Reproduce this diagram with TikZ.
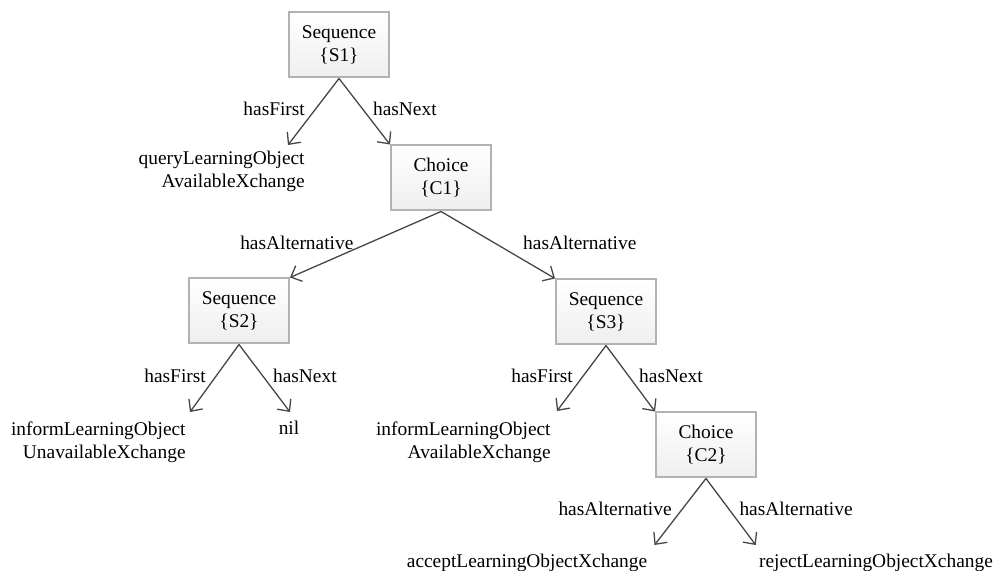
\documentclass[tikz,border=0pt]{standalone}
\usepackage{fontspec}
\setmainfont{Liberation Serif}
\usetikzlibrary{arrows.meta, calc}
\definecolor{boxgray}{RGB}{178,178,178}
\definecolor{linegray}{RGB}{70,70,70}

\begin{document}
\begin{tikzpicture}[x=0.5pt,y=-0.5pt,
    font=\fontsize{9.7}{11.5}\selectfont,
    ctrl/.style={draw=boxgray, line width=1pt, top color=white, bottom color=gray!13,
      minimum width=50pt, minimum height=32.5pt, align=center, inner sep=0pt},
    leaf/.style={align=right, inner sep=0pt},
    rel/.style={->, line width=0.65pt, draw=linegray, >={Straight Barb[length=4.5pt,width=8.5pt]}},
    lbl/.style={inner sep=5pt}]
  \useasboundingbox (0,0) rectangle (993,571);
  % control constructs
  \node[ctrl] (s1) at (339,45) {Sequence\\\{S1\}};
  \node[ctrl] (c1) at (441,178) {Choice\\\{C1\}};
  \node[ctrl] (s2) at (239,311) {Sequence\\\{S2\}};
  \node[ctrl] (s3) at (606,312) {Sequence\\\{S3\}};
  \node[ctrl] (c2) at (706,445) {Choice\\\{C2\}};
  % exchanges
  \node[leaf, anchor=north east] (q) at (305,151) {queryLearningObject\\AvailableXchange};
  \node[leaf, anchor=north east] (i1) at (186,421) {informLearningObject\\UnavailableXchange};
  \node[leaf, anchor=north] (nil) at (289,421) {nil};
  \node[leaf, anchor=north east] (i2) at (551,421) {informLearningObject\\AvailableXchange};
  \node[leaf, anchor=north] (acc) at (527,554) {acceptLearningObjectXchange};
  \node[leaf, anchor=north] (rej) at (876,554) {rejectLearningObjectXchange};
  % relations
  \draw[rel] (s1.south) -- ($(q.north east)+(-17,-6)$) node[lbl,pos=.46,left] {hasFirst};
  \draw[rel] (s1.south) -- (c1.north west) node[lbl,pos=.46,right] {hasNext};
  \draw[rel] (c1.south) -- (s2.north east) node[lbl,pos=.47,left,xshift=-3pt] {hasAlternative};
  \draw[rel] (c1.south) -- (s3.north west) node[lbl,pos=.47,right,xshift=9pt] {hasAlternative};
  \draw[rel] (s2.south) -- ($(i1.north east)+(4,-9)$) node[lbl,pos=.46,left] {hasFirst};
  \draw[rel] (s2.south) -- ($(nil.north)+(1,-9)$) node[lbl,pos=.46,right] {hasNext};
  \draw[rel] (s3.south) -- ($(i2.north east)+(6,-10)$) node[lbl,pos=.46,left] {hasFirst};
  \draw[rel] (s3.south) -- (c2.north west) node[lbl,pos=.46,right] {hasNext};
  \draw[rel] (c2.south) -- ($(acc.north east)+(7,-9)$) node[lbl,pos=.46,left] {hasAlternative};
  \draw[rel] (c2.south) -- ($(rej.north west)+(-3,-9)$) node[lbl,pos=.46,right] {hasAlternative};
\end{tikzpicture}
\end{document}
